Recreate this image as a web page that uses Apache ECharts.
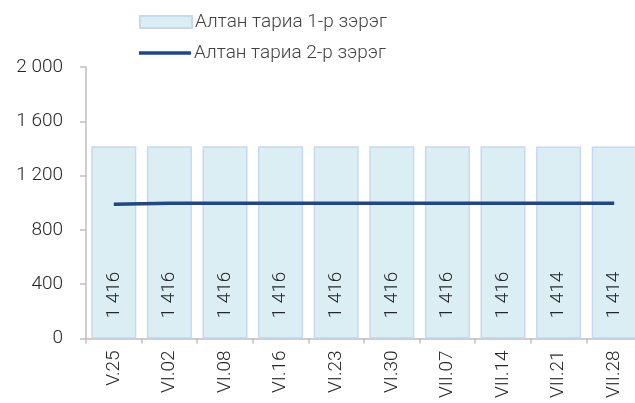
<!DOCTYPE html>
<html><head><meta charset="utf-8">
<script src="https://cdn.jsdelivr.net/npm/echarts@6/dist/echarts.min.js"></script>
<style>html,body{margin:0;padding:0;background:#fff}#c{width:635px;height:403px}</style>
</head><body><div id="c"></div>
<script>
const categories = ['V.25','VI.02','VI.08','VI.16','VI.23','VI.30','VII.07','VII.14','VII.21','VII.28'];
const grade1 = [1416,1416,1416,1416,1416,1416,1416,1416,1414,1414];
const grade2 = [989,996,997,997,997,997,997,997,997,997];
const seriesNames = ['Алтан тариа 1-р зэрэг','Алтан тариа 2-р зэрэг'];
const yTicks = {min:0, max:2000, interval:400};

const fmt = v => String(v).replace(/\B(?=(\d{3})+(?!\d))/g, ' ');
const FONT = 'Roboto';
const FS = 19;
const legendText = {fontFamily:FONT, fontWeight:300, fontSize:FS, color:'#404040', padding:[0,0,0,-2]};
const chart = echarts.init(document.getElementById('c'), null, {renderer:'canvas'});
chart.setOption({
  animation:false,
  backgroundColor:'#fff',
  textStyle:{fontFamily:FONT, fontWeight:300},
  legend:[
    {left:134, top:7.5, itemWidth:52, itemHeight:12, icon:'rect', textStyle:legendText,
     data:[{name:seriesNames[0]}]},
    {left:134, top:38.5, itemWidth:52, itemHeight:3.5, icon:'rect', textStyle:legendText,
     data:[{name:seriesNames[1]}]}
  ],
  grid:{left:86, width:556, top:67, bottom:64.5, containLabel:false, outerBoundsMode:'none'},
  xAxis:{
    type:'category', data:categories, boundaryGap:true,
    axisLine:{lineStyle:{color:'#BFBFBF', width:1.5}},
    axisTick:{show:true, length:5, lineStyle:{color:'#BFBFBF', width:1.5}},
    axisLabel:{rotate:90, margin:12, fontFamily:FONT, fontWeight:300, fontSize:FS, color:'#262626'}
  },
  yAxis:{
    type:'value', min:yTicks.min, max:yTicks.max, interval:yTicks.interval,
    splitLine:{show:false},
    axisLine:{show:true, lineStyle:{color:'#BFBFBF', width:1.5}},
    axisTick:{show:true, length:6, lineStyle:{color:'#BFBFBF', width:1.5}},
    axisLabel:{margin:23, fontFamily:FONT, fontWeight:300, fontSize:FS, color:'#262626', formatter:fmt}
  },
  series:[
    {
      name:seriesNames[0], type:'bar', data:grade1, barCategoryGap:'19%',
      itemStyle:{color:'#DAEEF3', borderColor:'#C6D9F0', borderWidth:1.5},
      label:{show:true, position:'insideBottom', distance:20, rotate:90, align:'left', verticalAlign:'middle',
        fontFamily:FONT, fontWeight:300, fontSize:FS, color:'#262626', formatter:p=>fmt(p.value)}
    },
    {
      name:seriesNames[1], type:'line', data:grade2, symbol:'none',
      lineStyle:{color:'#1F497D', width:3.5}, itemStyle:{color:'#1F497D'}
    }
  ]
});
</script></body></html>
